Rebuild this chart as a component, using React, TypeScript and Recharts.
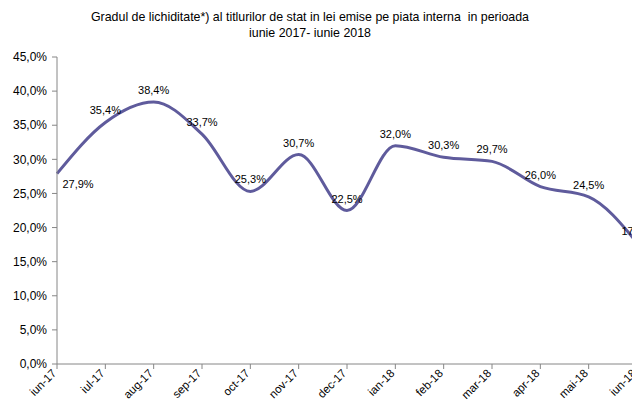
import { LineChart, Line, XAxis, YAxis, LabelList } from "recharts";

const MONTHS = [
  "iun-17", "iul-17", "aug-17", "sep-17", "oct-17", "nov-17", "dec-17",
  "ian-18", "feb-18", "mar-18", "apr-18", "mai-18", "iun-18",
];
const LIQUIDITY = [27.9, 35.4, 38.4, 33.7, 25.3, 30.7, 22.5, 32.0, 30.3, 29.7, 26.0, 24.5, 17.8];
const Y_TICKS = [0, 5, 10, 15, 20, 25, 30, 35, 40, 45];
// where each data label sits relative to its point
const LABEL_SIDE = ["belowRight", "above", "above", "above", "above", "above", "above",
  "above", "above", "above", "above", "above", "above"];

const TITLE_1 = "Gradul de lichiditate*) al titlurilor de stat in lei emise pe piata interna  in perioada";
const TITLE_2 = "iunie 2017- iunie 2018";

const FONT = "'Liberation Sans', Arial, sans-serif";
const LINE_COLOR = "#5f5b9c";
const AXIS_COLOR = "#868686";

const data = MONTHS.map((m, i) => ({ month: m, value: LIQUIDITY[i] }));

const pct = (v: number) => `${v.toFixed(1).replace(".", ",")}%`;

function XTick(props: any) {
  const { x, y, payload } = props;
  return (
    <text
      x={x}
      y={y + 3}
      transform={`rotate(-45, ${x}, ${y + 3})`}
      textAnchor="end"
      fontSize={11.5}
      fontFamily={FONT}
      fill="#000"
    >
      {payload.value}
    </text>
  );
}

function ValueLabel(props: any) {
  const { x, y, value, index } = props;
  const side = LABEL_SIDE[index];
  const dx = side === "belowRight" ? 21 : 0;
  const dy = side === "belowRight" ? 14 : -8;
  return (
    <text
      x={x + dx}
      y={y + dy}
      textAnchor="middle"
      fontSize={11}
      fontFamily={FONT}
      fill="#000"
    >
      {pct(value)}
    </text>
  );
}

export default function App() {
  return (
    <div style={{ position: "relative", width: 640, height: 408, margin: -8, background: "#fff", overflow: "hidden" }}>
      <div
        style={{
          position: "absolute",
          top: 9,
          left: 0,
          width: 620,
          textAlign: "center",
          fontFamily: FONT,
          fontSize: 12.4,
          lineHeight: "16px",
          whiteSpace: "pre",
          color: "#000",
        }}
      >
        <div>{TITLE_1}</div>
        <div>{TITLE_2}</div>
      </div>
      <LineChart width={640} height={408} data={data} margin={{ top: 57, right: 3, left: 0, bottom: 0 }}>
        <XAxis
          dataKey="month"
          height={44}
          interval={0}
          tick={<XTick />}
          tickSize={5}
          axisLine={{ stroke: AXIS_COLOR }}
          tickLine={{ stroke: AXIS_COLOR }}
        />
        <YAxis
          width={57}
          domain={[0, 45]}
          ticks={Y_TICKS}
          interval={0}
          tickFormatter={pct}
          tickSize={5}
          tickMargin={5}
          tick={{ fill: "#000", fontSize: 12, fontFamily: FONT }}
          axisLine={{ stroke: AXIS_COLOR }}
          tickLine={{ stroke: AXIS_COLOR }}
        />
        <Line
          type="monotone"
          dataKey="value"
          stroke={LINE_COLOR}
          strokeWidth={3}
          dot={false}
          isAnimationActive={false}
        >
          <LabelList dataKey="value" content={<ValueLabel />} />
        </Line>
      </LineChart>
    </div>
  );
}
